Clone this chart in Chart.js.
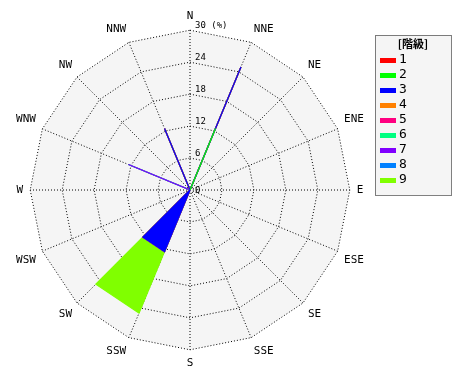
<!DOCTYPE html>
<html>
<head>
<meta charset="utf-8">
<script src="https://cdn.jsdelivr.net/npm/chart.js@4/dist/chart.umd.min.js"></script>
<style>
  body { margin: 0; background: #ffffff; }
</style>
</head>
<body>
<canvas id="windRose" width="470" height="380"></canvas>
<script>
// Directions clockwise from north
const directions = ["N", "NNE", "NE", "ENE", "E", "ESE", "SE", "SSE", "S", "SSW", "SW", "WSW", "W", "WNW", "NW", "NNW"];
// Class names and their colours
const classNames = ["1", "2", "3", "4", "5", "6", "7", "8", "9"];
const classColors = ["#ff0000", "#00ff00", "#0000ff", "#ff8000", "#ff0080", "#00ff80", "#8000ff", "#0080ff", "#80ff00"];
// Frequency (%) of each class per direction
//                N    NNE   NE ENE E ESE SE SSE S  SSW   SW   WSW W  WNW   NW NNW
const class1 = [0,   0,    0, 0,  0, 0,  0, 0,  0, 0,    0,    0, 0, 0,    0, 0];
const class2 = [0,   12.5, 0, 0,  0, 0,  0, 0,  0, 0,    0,    0, 0, 0,    0, 0];
const class3 = [0,   12.5, 0, 0,  0, 0,  0, 0,  0, 12.5, 12.5, 0, 0, 0,    0, 12.5];
const class4 = [0,   0,    0, 0,  0, 0,  0, 0,  0, 0,    0,    0, 0, 0,    0, 0];
const class5 = [0,   0,    0, 0,  0, 0,  0, 0,  0, 0,    0,    0, 0, 0,    0, 0];
const class6 = [0,   0,    0, 0,  0, 0,  0, 0,  0, 0,    0,    0, 0, 0,    0, 0];
const class7 = [0,   0,    0, 0,  0, 0,  0, 0,  0, 0,    0,    0, 0, 12.5, 0, 0];
const class8 = [0,   0,    0, 0,  0, 0,  0, 0,  0, 0,    0,    0, 0, 0,    0, 0];
const class9 = [0,   0,    0, 0,  0, 0,  0, 0,  0, 12.5, 12.5, 0, 0, 0,    0, 0];
// Radial tick labels
const radialTicks = [0, 6, 12, 18, 24, 30];
const unitLabel = "(%)";
const legendTitle = "[階級]";

const classData = [class1, class2, class3, class4, class5, class6, class7, class8, class9];

// Stack classes: each dataset holds the running total so smaller totals sit on top
const running = directions.map(() => 0);
const datasets = classData.map((values, i) => {
  const cumulative = values.map((v, j) => (running[j] += v));
  return {
    label: classNames[i],
    data: cumulative,
    backgroundColor: classColors[i],
    borderColor: classColors[i],
    borderWidth: 1.2,
    fill: true,
    pointRadius: 0,
  };
});

const monoFont = "'DejaVu Sans Mono', monospace";

// Tick labels to the right of the north spoke
const tickLabels = {
  id: "tickLabels",
  afterDraw(chart) {
    const scale = chart.scales.r;
    const ctx = chart.ctx;
    ctx.save();
    ctx.fillStyle = "#000";
    ctx.font = "9px " + monoFont;
    ctx.textAlign = "left";
    ctx.textBaseline = "bottom";
    radialTicks.forEach((v) => {
      const d = scale.getDistanceFromCenterForValue(v);
      let text = String(v);
      if (v === radialTicks[radialTicks.length - 1]) text += " " + unitLabel;
      ctx.fillText(text, scale.xCenter + 5, scale.yCenter - d + (v === 0 ? 5 : 0));
    });
    ctx.restore();
  },
};

// Boxed legend on the right
const boxLegend = {
  id: "boxLegend",
  afterDraw(chart) {
    const ctx = chart.ctx;
    const x = 375, y = 35, w = 76, h = 160;
    ctx.save();
    ctx.fillStyle = "#f5f5f5";
    ctx.fillRect(x, y, w, h);
    ctx.strokeStyle = "#000";
    ctx.lineWidth = 1;
    ctx.setLineDash([1, 1]);
    ctx.strokeRect(x + 0.5, y + 0.5, w, h);
    ctx.setLineDash([]);
    ctx.fillStyle = "#000";
    ctx.font = "bold 11px 'Noto Sans CJK JP'";
    ctx.textAlign = "center";
    ctx.textBaseline = "middle";
    ctx.fillText(legendTitle, x + w / 2, y + 9);
    ctx.font = "13px " + monoFont;
    ctx.textAlign = "left";
    chart.data.datasets.forEach((ds, i) => {
      const rowY = y + 25 + i * 15;
      ctx.fillStyle = ds.backgroundColor;
      ctx.fillRect(x + 5, rowY - 2, 16, 5);
      ctx.fillStyle = "#000";
      ctx.fillText(ds.label, x + 24, rowY);
    });
    ctx.restore();
  },
};

new Chart(document.getElementById("windRose"), {
  type: "radar",
  data: {
    labels: directions,
    datasets: datasets,
  },
  options: {
    responsive: false,
    animation: false,
    layout: {
      padding: { left: 10, right: 100, top: 10, bottom: 10 },
    },
    elements: {
      line: { tension: 0 },
    },
    plugins: {
      legend: { display: false },
      tooltip: { enabled: false },
    },
    scales: {
      r: {
        min: 0,
        max: 30,
        backgroundColor: "#f5f5f5",
        ticks: { display: false, stepSize: 6 },
        grid: { color: "#000", lineWidth: 1 },
        border: { dash: [1, 2] },
        angleLines: { color: "#000", lineWidth: 1, borderDash: [1, 2] },
        pointLabels: {
          color: "#000",
          padding: 7,
          font: { family: monoFont, size: 11 },
        },
      },
    },
  },
  plugins: [tickLabels, boxLegend],
});
</script>
</body>
</html>
